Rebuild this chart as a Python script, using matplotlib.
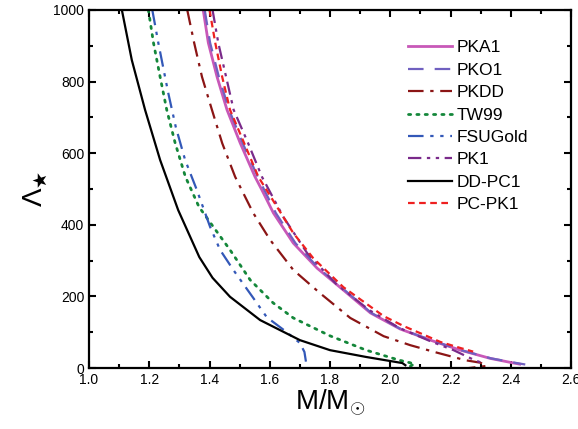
import matplotlib
matplotlib.use("Agg")
import matplotlib.pyplot as plt
from matplotlib.ticker import MultipleLocator

plt.rcParams['font.family'] = ['Liberation Sans', 'DejaVu Sans']
plt.rcParams['mathtext.fontset'] = 'custom'
plt.rcParams['mathtext.rm'] = 'Liberation Sans'
plt.rcParams['mathtext.it'] = 'Liberation Sans'

# Data: mass (M/Msun) and tidal deformability
pka1_m = [1.379, 1.396, 1.425, 1.458, 1.502, 1.551, 1.574, 1.612, 1.678, 1.757, 1.844, 1.934, 2.033, 2.133, 2.233, 2.332, 2.41, 2.43]
pka1_l = [1000, 908, 813, 721, 628, 534, 497, 433, 349, 279, 218, 154, 109, 78, 50, 27, 14, 11]

pko1_m = [1.384, 1.402, 1.431, 1.465, 1.51, 1.56, 1.62, 1.685, 1.762, 1.848, 1.937, 2.035, 2.135, 2.235, 2.335, 2.42, 2.448]
pko1_l = [1000, 908, 813, 721, 628, 534, 433, 349, 279, 218, 154, 109, 78, 50, 27, 14, 10]

pkdd_m = [1.326, 1.349, 1.375, 1.408, 1.442, 1.485, 1.545, 1.601, 1.678, 1.767, 1.867, 1.978, 2.066, 2.155, 2.249, 2.299, 2.32, 2.26]
pkdd_l = [1000, 908, 813, 721, 628, 534, 433, 358, 274, 209, 140, 89, 64, 43, 22, 15, 6, 0]

tw99_m = [1.197, 1.214, 1.236, 1.258, 1.286, 1.32, 1.365, 1.412, 1.468, 1.535, 1.611, 1.678, 1.80, 1.92, 2.03, 2.08, 2.06]
tw99_l = [1000, 908, 813, 721, 628, 534, 450, 395, 330, 246, 182, 140, 90, 50, 22, 12, 2]

fsu_m = [1.21, 1.23, 1.263, 1.288, 1.319, 1.358, 1.402, 1.435, 1.479, 1.545, 1.59, 1.655, 1.70, 1.715, 1.72]
fsu_l = [1000, 908, 768, 673, 581, 497, 394, 330, 274, 196, 142, 101, 70, 45, 18]

pk1_m = [1.41, 1.429, 1.455, 1.48, 1.528, 1.574, 1.645, 1.724, 1.82, 1.93, 2.03, 2.133, 2.21, 2.28, 2.31]
pk1_l = [1000, 908, 813, 721, 628, 534, 422, 321, 235, 162, 112, 75, 50, 22, 13]

ddpc1_m = [1.109, 1.142, 1.186, 1.236, 1.296, 1.366, 1.41, 1.468, 1.568, 1.70, 1.80, 1.92, 2.04, 2.05]
ddpc1_l = [1000, 860, 721, 581, 441, 310, 252, 199, 134, 78, 50, 31, 14, 8]

pcpk1_m = [1.40, 1.419, 1.442, 1.468, 1.515, 1.562, 1.678, 1.744, 1.844, 1.978, 2.045, 2.106, 2.166, 2.233, 2.275]
pcpk1_l = [1000, 908, 813, 721, 628, 534, 377, 307, 226, 145, 117, 95, 73, 56, 46]

fig = plt.figure(figsize=(5.78, 4.29), dpi=100)
ax = fig.add_axes([0.154, 0.142, 0.834, 0.835])

ax.plot(pka1_m, pka1_l, color='#c858b8', lw=2.0, ls='-', label='PKA1')
ax.plot(pko1_m, pko1_l, color='#7060c0', lw=1.6, ls=(0, (7, 5)), label='PKO1')
ax.plot(pkdd_m, pkdd_l, color='#8b1515', lw=1.6, ls=(0, (7, 3, 1.5, 3)), label='PKDD')
ax.plot(tw99_m, tw99_l, color='#14873a', lw=2.0, ls=(0, (0.8, 2.2)), dash_capstyle='round', label='TW99')
ax.plot(fsu_m, fsu_l, color='#3358b8', lw=1.6, ls=(0, (7, 3, 1.5, 3, 1.5, 3)), label='FSUGold')
ax.plot(pk1_m, pk1_l, color='#7a2a8a', lw=1.6, ls=(0, (6, 2.5, 1.5, 2.5, 1.5, 2.5)), label='PK1')
ax.plot(ddpc1_m, ddpc1_l, color='black', lw=1.6, ls='-', label='DD-PC1')
ax.plot(pcpk1_m, pcpk1_l, color='#ee2020', lw=1.6, ls=(0, (3, 2)), label='PC-PK1')

ax.set_xlim(1.0, 2.6)
ax.set_ylim(0, 1000)
ax.xaxis.set_major_locator(MultipleLocator(0.2))
ax.xaxis.set_minor_locator(MultipleLocator(0.1))
ax.yaxis.set_major_locator(MultipleLocator(200))
ax.yaxis.set_minor_locator(MultipleLocator(100))
ax.tick_params(which='both', direction='in', top=True, right=True, width=1.5, labelsize=10)
ax.tick_params(which='major', length=5)
ax.tick_params(which='minor', length=3)
for s in ax.spines.values():
    s.set_linewidth(1.6)

ax.set_xlabel(r'M/M$_{\odot}$', fontsize=20, labelpad=0)
ax.set_ylabel(r'$\Lambda_{\bigstar}$', fontsize=20, labelpad=2)

ax.legend(loc='upper left', frameon=False, fontsize=12.5, handlelength=2.5,
          handletextpad=0.3, labelspacing=0.42, bbox_to_anchor=(0.648, 0.935),
          borderaxespad=0)

fig.savefig('out.png', dpi=100)
